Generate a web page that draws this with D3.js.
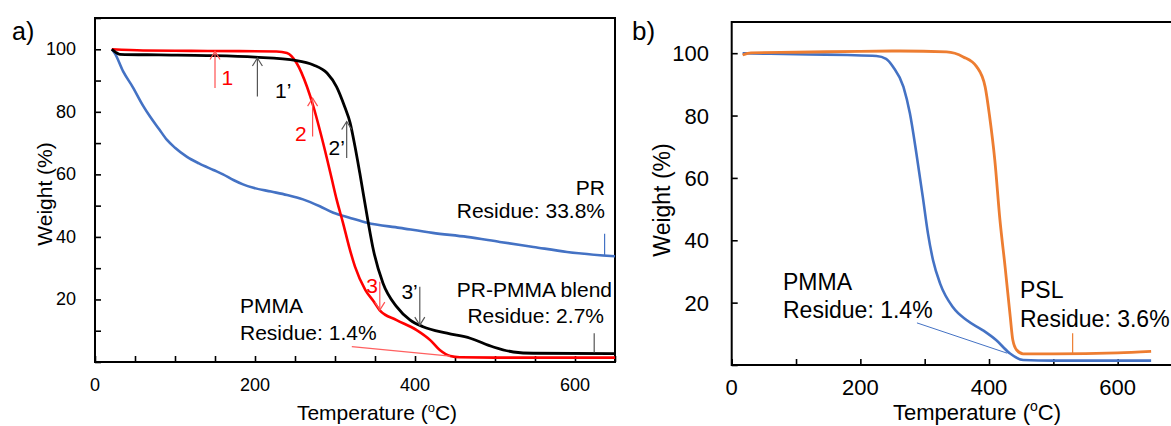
<!DOCTYPE html>
<html>
<head>
<meta charset="utf-8">
<script src="https://cdn.jsdelivr.net/npm/d3@7"></script>
<style>
  body { margin: 0; background: #fff; }
  svg { display: block; overflow: hidden; }
  text { font-family: "Liberation Sans", Arial, sans-serif; }
</style>
</head>
<body>
<svg id="chart" width="1171" height="426"></svg>
<script>
// ---------------- data ----------------
// panel a) temperature (C) / weight (%)
var prTemp   = [21, 25, 35, 47, 60, 69, 80, 90, 100, 115, 130, 148, 160, 173, 185, 198, 220, 240, 260, 281, 298, 320, 340, 381, 422, 465, 506, 548, 590, 650];
var prWeight = [100, 98.6, 93, 88, 82, 78.4, 74.5, 71, 68.5, 65.6, 63.5, 61.4, 60, 58.2, 56.8, 55.7, 54.5, 53.4, 52, 49.8, 47.7, 46, 44.5, 42.9, 41.3, 40, 38.4, 36.8, 35.2, 33.8];

var pmmaTemp   = [21, 60, 120, 180, 227, 240, 252, 265, 273, 281, 290, 296, 302, 310, 318, 325, 338, 348, 356, 377, 402, 419, 431, 444, 456, 500, 650];
var pmmaWeight = [100, 99.6, 99.5, 99.4, 99.3, 98.8, 95.6, 88, 81.7, 74.2, 65, 58.5, 52, 44.5, 36.5, 30.5, 23, 19.5, 16.5, 13.4, 10.2, 7, 3.8, 1.9, 1.5, 1.4, 1.4];

var blendTemp   = [21, 26, 31, 80, 140, 200, 252, 273, 290, 302, 312, 319, 325, 331, 341, 348, 360, 377, 394, 410, 440, 469, 498, 523, 548, 650];
var blendWeight = [100, 99, 98.4, 98.2, 98, 97.5, 96.4, 95, 92.4, 88, 81.7, 76.4, 68.9, 60.4, 45.4, 35.8, 25.2, 17.7, 13.4, 11.3, 9.2, 7.6, 4.8, 3.2, 2.8, 2.7];

// panel b)
var pmmaBTemp   = [17, 60, 120, 180, 225, 240, 251, 267, 277, 287, 297, 305, 313, 324, 344, 365, 390, 411, 432, 453, 500, 652];
var pmmaBWeight = [100, 99.8, 99.6, 99.4, 99.1, 98.2, 95.6, 89.2, 80.7, 68, 54, 42.3, 33.6, 26.1, 18.5, 14.4, 11.2, 8, 3.8, 1.6, 1.4, 1.4];

var pslTemp   = [17, 30, 100, 200, 262, 334, 360, 381, 394, 401, 409, 417, 425, 433, 437, 443, 453, 500, 600, 652];
var pslWeight = [99.4, 100.1, 100.3, 100.6, 100.7, 100.4, 98.8, 95.6, 89.2, 79.6, 65.7, 46.5, 31.5, 15.5, 8, 4.8, 3.6, 3.6, 3.9, 4.4];

var xTickLabels = [0, 200, 400, 600];
var yTickLabels = [20, 40, 60, 80, 100];

// ---------------- setup ----------------
var svg = d3.select("#chart");
var RED = "#ff0000", BLUE = "#4472c4", ORANGE = "#ed7d31", BLACK = "#000000";

function zip(xs, ys) {
  return xs.map(function(x, i) { return [x, ys[i]]; });
}

// -------- panel a --------
var xA = d3.scaleLinear().domain([0, 650]).range([95, 615]);
var yA = d3.scaleLinear().domain([0, 110]).range([362, 18]);
var gA = svg.append("g");

// frame
gA.append("rect")
    .attr("x", 95).attr("y", 18)
    .attr("width", 520).attr("height", 344)
    .style("fill", "none").style("stroke", BLACK).style("stroke-width", 2);

// x ticks (inside)
gA.append("g")
    .attr("transform", "translate(0,362)")
    .call(d3.axisBottom(xA).tickValues(d3.range(0, 651, 50)).tickSize(-6).tickFormat(""))
    .call(function(g) { g.select(".domain").remove(); g.selectAll("line").style("stroke-width", 1.6); });
// y ticks (inside)
gA.append("g")
    .attr("transform", "translate(95,0)")
    .call(d3.axisLeft(yA).tickValues(d3.range(0, 111, 10)).tickSize(-6).tickFormat(""))
    .call(function(g) { g.select(".domain").remove(); g.selectAll("line").style("stroke-width", 1.6); });

gA.selectAll(".xl").data(xTickLabels).enter().append("text")
    .attr("x", function(d) { return xA(d); }).attr("y", 391)
    .attr("text-anchor", "middle").style("font-size", "18px")
    .text(function(d) { return d; });
gA.selectAll(".yl").data(yTickLabels).enter().append("text")
    .attr("x", 76).attr("y", function(d) { return yA(d) + 6; })
    .attr("text-anchor", "end").style("font-size", "18px")
    .text(function(d) { return d; });

// axis titles
gA.append("text")
    .attr("transform", "translate(52,194) rotate(-90)")
    .attr("text-anchor", "middle").style("font-size", "21px")
    .text("Weight (%)");
var tA = gA.append("text")
    .attr("x", 377).attr("y", 420)
    .attr("text-anchor", "middle").style("font-size", "21px");
tA.append("tspan").text("Temperature (");
tA.append("tspan").attr("dy", -8).style("font-size", "13px").text("o");
tA.append("tspan").attr("dy", 8).text("C)");

gA.append("text").attr("x", 12).attr("y", 40).style("font-size", "25px").text("a)");

var lineA = d3.line().x(function(d) { return xA(d[0]); }).y(function(d) { return yA(d[1]); }).curve(d3.curveMonotoneX);

gA.append("path").datum(zip(prTemp, prWeight)).attr("d", lineA)
    .style("fill", "none").style("stroke", BLUE).style("stroke-width", 2.6);
gA.append("path").datum(zip(pmmaTemp, pmmaWeight)).attr("d", lineA)
    .style("fill", "none").style("stroke", RED).style("stroke-width", 2.6);
gA.append("path").datum(zip(blendTemp, blendWeight)).attr("d", lineA)
    .style("fill", "none").style("stroke", BLACK).style("stroke-width", 2.8);

// arrow at temp t, from weight w0 to w1 (head at w1)
function arrow(g, xs, ys, t, w0, w1, color) {
  var x = xs(t), y0 = ys(w0), y1 = ys(w1);
  var dir = y1 < y0 ? 1 : -1;
  g.append("line").attr("x1", x).attr("x2", x).attr("y1", y0).attr("y2", y1)
      .style("stroke", color).style("stroke-width", 1.2);
  g.append("path")
      .attr("d", "M" + (x - 5) + "," + (y1 + dir * 8) + "L" + x + "," + y1 + "L" + (x + 5) + "," + (y1 + dir * 8))
      .style("fill", "none").style("stroke", color).style("stroke-width", 1.2);
}
arrow(gA, xA, yA, 150, 87.6, 99.3, "#ff5050");
arrow(gA, xA, yA, 203, 84.9, 97.2, "#555");
arrow(gA, xA, yA, 272, 72.1, 84.4, "#ff5050");
arrow(gA, xA, yA, 314.6, 65.2, 76.9, "#555");
arrow(gA, xA, yA, 356, 25.7, 16.6, "#ff5050");
arrow(gA, xA, yA, 406, 24.1, 11.8, "#555");

function label(g, x, y, txt, color, size, anchor) {
  g.append("text").attr("x", x).attr("y", y)
      .attr("text-anchor", anchor || "start")
      .style("font-size", size).style("fill", color).text(txt);
}
label(gA, xA(158), yA(88.6), "1", RED, "21px");
label(gA, xA(225), yA(84.4), "1\u2019", BLACK, "21px");
label(gA, xA(250), yA(70.8), "2", RED, "21px");
label(gA, xA(292), yA(66.2), "2\u2019", BLACK, "21px");
label(gA, xA(339), yA(22), "3", RED, "21px");
label(gA, xA(383), yA(20), "3\u2019", BLACK, "21px");

label(gA, 605, 195, "PR", BLACK, "21px", "end");
label(gA, 605, 218, "Residue: 33.8%", BLACK, "21px", "end");
label(gA, 612, 297, "PR-PMMA blend", BLACK, "21px", "end");
label(gA, 604, 323, "Residue: 2.7%", BLACK, "21px", "end");
label(gA, 240, 313, "PMMA", BLACK, "21px");
label(gA, 240, 340, "Residue: 1.4%", BLACK, "21px");

// residue markers
gA.append("line").attr("x1", xA(637)).attr("x2", xA(637)).attr("y1", yA(41)).attr("y2", yA(34))
    .style("stroke", BLUE).style("stroke-width", 1.2);
gA.append("line").attr("x1", xA(624)).attr("x2", xA(624)).attr("y1", yA(9.2)).attr("y2", yA(3))
    .style("stroke", "#555").style("stroke-width", 1.2);
gA.append("line").attr("x1", xA(321)).attr("x2", xA(444)).attr("y1", yA(4.9)).attr("y2", yA(1.9))
    .style("stroke", "#ff6060").style("stroke-width", 1.2);

// -------- panel b --------
var xB = d3.scaleLinear().domain([0, 700]).range([731.7, 1182]);
var yB = d3.scaleLinear().domain([0, 110]).range([365, 22]);
var gB = svg.append("g");

gB.append("rect")
    .attr("x", 731.7).attr("y", 22)
    .attr("width", 450.3).attr("height", 343)
    .style("fill", "none").style("stroke", BLACK).style("stroke-width", 2);

gB.append("g")
    .attr("transform", "translate(0,365)")
    .call(d3.axisBottom(xB).tickValues(d3.range(0, 701, 100)).tickSize(-6).tickFormat(""))
    .call(function(g) { g.select(".domain").remove(); g.selectAll("line").style("stroke-width", 1.6); });
gB.append("g")
    .attr("transform", "translate(731.7,0)")
    .call(d3.axisLeft(yB).tickValues(d3.range(0, 111, 20)).tickSize(-6).tickFormat(""))
    .call(function(g) { g.select(".domain").remove(); g.selectAll("line").style("stroke-width", 1.6); });

gB.selectAll(".xl").data(xTickLabels).enter().append("text")
    .attr("x", function(d) { return xB(d); }).attr("y", 395)
    .attr("text-anchor", "middle").style("font-size", "22px")
    .text(function(d) { return d; });
gB.selectAll(".yl").data(yTickLabels).enter().append("text")
    .attr("x", 709).attr("y", function(d) { return yB(d) + 8; })
    .attr("text-anchor", "end").style("font-size", "22px")
    .text(function(d) { return d; });

gB.append("text")
    .attr("transform", "translate(670,200) rotate(-90)")
    .attr("text-anchor", "middle").style("font-size", "23px")
    .text("Weight (%)");
var tB = gB.append("text")
    .attr("x", 977).attr("y", 420)
    .attr("text-anchor", "middle").style("font-size", "22px");
tB.append("tspan").text("Temperature (");
tB.append("tspan").attr("dy", -9).style("font-size", "14px").text("o");
tB.append("tspan").attr("dy", 9).text("C)");

gB.append("text").attr("x", 632).attr("y", 40).style("font-size", "26px").text("b)");

var lineB = d3.line().x(function(d) { return xB(d[0]); }).y(function(d) { return yB(d[1]); }).curve(d3.curveMonotoneX);

gB.append("path").datum(zip(pmmaBTemp, pmmaBWeight)).attr("d", lineB)
    .style("fill", "none").style("stroke", BLUE).style("stroke-width", 2.6);
gB.append("path").datum(zip(pslTemp, pslWeight)).attr("d", lineB)
    .style("fill", "none").style("stroke", ORANGE).style("stroke-width", 2.8);

label(gB, 783, 290, "PMMA", BLACK, "23px");
label(gB, 783, 318, "Residue: 1.4%", BLACK, "23px");
label(gB, 1020, 298, "PSL", BLACK, "23px");
label(gB, 1020, 327, "Residue: 3.6%", BLACK, "23px");

gB.append("line").attr("x1", xB(288)).attr("x2", xB(428)).attr("y1", yB(13.5)).attr("y2", yB(3.8))
    .style("stroke", BLUE).style("stroke-width", 1);
gB.append("line").attr("x1", xB(530)).attr("x2", xB(530)).attr("y1", yB(10.2)).attr("y2", yB(3.8))
    .style("stroke", ORANGE).style("stroke-width", 1.2);
</script>
</body>
</html>
